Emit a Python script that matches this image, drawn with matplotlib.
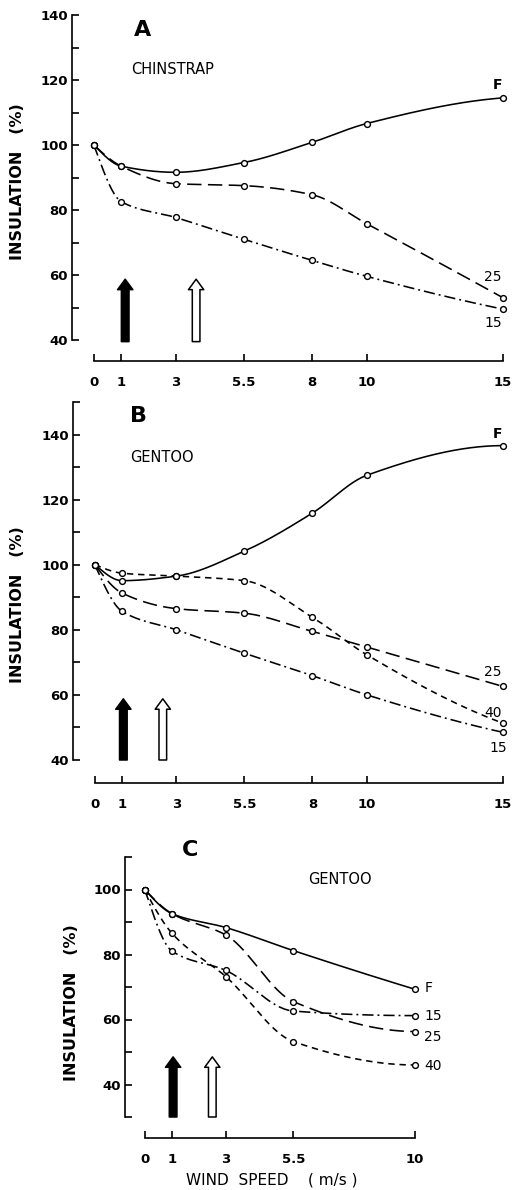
import numpy as np
import matplotlib
matplotlib.use("Agg")
import matplotlib.pyplot as plt
from matplotlib.patches import ArrowStyle

# ---------------- data ----------------
wind_AB = [0, 1, 3, 5.5, 8, 10, 15]
wind_C = [0, 1, 3, 5.5, 10]
xticklabels_AB = ["0", "1", "3", "5.5", "8", "10", "15"]
xticklabels_C = ["0", "1", "3", "5.5", "10"]

# Panel A - Chinstrap
A_F = [100, 93.5, 91.6, 94.6, 100.8, 106.6, 114.5]
A_25 = [100, 93.5, 88.1, 87.5, 84.7, 75.8, 53.0]
A_15 = [100, 82.6, 77.7, 71.0, 64.5, 59.6, 49.5]

# Panel B - Gentoo
B_F = [100, 95.1, 96.5, 104.2, 115.9, 127.5, 136.6]
B_40 = [100, 97.4, 96.5, 95.1, 83.8, 72.3, 51.3]
B_25 = [100, 91.3, 86.5, 85.1, 79.5, 74.7, 62.6]
B_15 = [100, 85.7, 80.0, 72.8, 65.9, 60.0, 48.5]

# Panel C - Gentoo
C_F = [100, 92.6, 88.3, 81.2, 69.3]
C_15 = [100, 81.1, 75.1, 62.6, 61.2]
C_25 = [100, 92.6, 86.0, 65.5, 56.3]
C_40 = [100, 86.6, 73.2, 53.2, 46.0]

# arrow positions (wind speed)
arrows_A = [1.15, 3.75]
arrows_B = [1.05, 2.5]
arrows_C = [1.05, 2.5]

# ---------------- helpers ----------------
W, H = 517, 1190
fig = plt.figure(figsize=(W / 100, H / 100), dpi=100)
FONT = "DejaVu Sans"
plt.rcParams["font.family"] = FONT


def add_axes_px(left, top, right, bottom):
    return fig.add_axes([left / W, 1 - bottom / H, (right - left) / W, (bottom - top) / H])


def smooth(x, y, n=300):
    """Shape-preserving cubic (PCHIP) through the read points, for drawing only."""
    x = np.asarray(x, float)
    y = np.asarray(y, float)
    h = np.diff(x)
    d = np.diff(y) / h
    m = np.zeros_like(y)
    for k in range(1, len(x) - 1):
        if d[k - 1] * d[k] <= 0:
            m[k] = 0.0
        else:
            w1 = 2 * h[k] + h[k - 1]
            w2 = h[k] + 2 * h[k - 1]
            m[k] = (w1 + w2) / (w1 / d[k - 1] + w2 / d[k])

    def end(h0, h1, d0, d1):
        mm = ((2 * h0 + h1) * d0 - h0 * d1) / (h0 + h1)
        if np.sign(mm) != np.sign(d0):
            mm = 0.0
        elif np.sign(d0) != np.sign(d1) and abs(mm) > abs(3 * d0):
            mm = 3 * d0
        return mm

    m[0] = end(h[0], h[1], d[0], d[1])
    m[-1] = end(h[-1], h[-2], d[-1], d[-2])
    xs = np.linspace(x[0], x[-1], n)
    idx = np.clip(np.searchsorted(x, xs) - 1, 0, len(x) - 2)
    t = (xs - x[idx]) / h[idx]
    h00 = 2 * t**3 - 3 * t**2 + 1
    h10 = t**3 - 2 * t**2 + t
    h01 = -2 * t**3 + 3 * t**2
    h11 = t**3 - t**2
    ys = h00 * y[idx] + h10 * h[idx] * m[idx] + h01 * y[idx + 1] + h11 * h[idx] * m[idx + 1]
    return xs, ys


STYLES = {
    "F": (0, ()),
    "25": (0, (9, 4)),
    "15": (0, (7, 2.5, 1.2, 2.5)),
    "40": (0, (4, 3)),
}


def plot_series(ax, x, y, key):
    xs, ys = smooth(x, y)
    ax.plot(xs, ys, color="black", lw=1.15, linestyle=STYLES[key], clip_on=False,
            dash_capstyle="butt")
    ax.plot(x, y, linestyle="none", marker="o", ms=4.2, mfc="white",
            mec="black", mew=1.0, clip_on=False, zorder=5)


def style_axes(ax, xlim, ylim, xticks, xlabels, ybounds, outward):
    ax.set_xlim(*xlim)
    ax.set_ylim(*ylim)
    for s in ["top", "right"]:
        ax.spines[s].set_visible(False)
    ax.spines["left"].set_linewidth(1.2)
    ax.spines["bottom"].set_linewidth(1.2)
    ax.spines["left"].set_bounds(*ybounds)
    ax.spines["bottom"].set_bounds(xticks[0], xticks[-1])
    ax.spines["bottom"].set_position(("outward", outward))
    ax.set_xticks(xticks)
    ax.set_xticklabels(xlabels)
    ax.set_yticks(np.arange(ybounds[0] + (ybounds[0] % 20), ybounds[1] + 1, 20))
    ax.set_yticks(np.arange(ybounds[0], ybounds[1] + 1, 10), minor=True)
    ax.tick_params(axis="x", direction="in", length=5, width=1.2, pad=11,
                   labelsize=9.5)
    ax.tick_params(axis="y", which="both", direction="in", length=5, width=1.2,
                   pad=3, labelsize=9.5)
    for lab in ax.get_xticklabels() + ax.get_yticklabels():
        lab.set_fontweight("bold")
    ax.patch.set_visible(False)


def draw_arrows(ax, xs, bottom, top):
    style = ArrowStyle("Simple", head_length=0.75, head_width=1.1, tail_width=0.55)
    for i, x in enumerate(xs):
        fc = "black" if i == 0 else "white"
        ax.annotate("", xy=(x, top), xytext=(x, bottom),
                    arrowprops=dict(arrowstyle=style, mutation_scale=10, fc=fc,
                                    ec="black", lw=1.1, shrinkA=0, shrinkB=0),
                    annotation_clip=False)


def ftext(x, y, s, **kw):
    fig.text(x / W, 1 - y / H, s, family=FONT, **kw)


# ---------------- Panel A ----------------
axA = add_axes_px(72, 15, 503, 340)
plot_series(axA, wind_AB, A_F, "F")
plot_series(axA, wind_AB, A_25, "25")
plot_series(axA, wind_AB, A_15, "15")
style_axes(axA, (-0.8, 15), (40, 140), wind_AB, xticklabels_AB, (40, 140), 15)
draw_arrows(axA, arrows_A, 39.5, 58.7)
ftext(143, 30, "A", fontsize=16, fontweight="bold", ha="center", va="center")
ftext(131, 70, "CHINSTRAP", fontsize=10.5, ha="left", va="center")
ftext(498, 85, "F", fontsize=10, ha="center", va="center", fontweight="bold")
ftext(493, 277, "25", fontsize=10, ha="center", va="center")
ftext(493, 323, "15", fontsize=10, ha="center", va="center")
ftext(18, 182, "INSULATION   (%)", fontsize=11.5, rotation=90, ha="center",
      va="center", fontweight="bold")

# ---------------- Panel B ----------------
axB = add_axes_px(73, 402, 503, 760)
plot_series(axB, wind_AB, B_F, "F")
plot_series(axB, wind_AB, B_40, "40")
plot_series(axB, wind_AB, B_25, "25")
plot_series(axB, wind_AB, B_15, "15")
style_axes(axB, (-0.8, 15), (40, 150), wind_AB, xticklabels_AB, (40, 150), 16.5)
draw_arrows(axB, arrows_B, 40, 58.8)
ftext(139, 416, "B", fontsize=16, fontweight="bold", ha="center", va="center")
ftext(130, 458, "GENTOO", fontsize=10.5, ha="left", va="center")
ftext(498, 434, "F", fontsize=10, ha="center", va="center", fontweight="bold")
ftext(493, 672, "25", fontsize=10, ha="center", va="center")
ftext(493, 713, "40", fontsize=10, ha="center", va="center")
ftext(498, 748, "15", fontsize=10, ha="center", va="center")
ftext(18, 605, "INSULATION   (%)", fontsize=11.5, rotation=90, ha="center",
      va="center", fontweight="bold")

# ---------------- Panel C ----------------
axC = add_axes_px(125, 857, 415, 1117)
plot_series(axC, wind_C, C_F, "F")
plot_series(axC, wind_C, C_25, "25")
plot_series(axC, wind_C, C_15, "15")
plot_series(axC, wind_C, C_40, "40")
style_axes(axC, (-0.73, 10), (30, 110), wind_C, xticklabels_C, (30, 110), 15)
draw_arrows(axC, arrows_C, 30, 48.5)
ftext(190, 850, "C", fontsize=16, fontweight="bold", ha="center", va="center")
ftext(308, 880, "GENTOO", fontsize=10.5, ha="left", va="center")
ftext(425, 988, "F", fontsize=10, ha="left", va="center")
ftext(424, 1016, "15", fontsize=10, ha="left", va="center")
ftext(424, 1037, "25", fontsize=10, ha="left", va="center")
ftext(424, 1066, "40", fontsize=10, ha="left", va="center")
ftext(72, 1003, "INSULATION   (%)", fontsize=11.5, rotation=90, ha="center",
      va="center", fontweight="bold")
ftext(272, 1180, "WIND  SPEED    ( m/s )", fontsize=11, ha="center", va="center")

fig.savefig("out.png", dpi=100, facecolor="white")
